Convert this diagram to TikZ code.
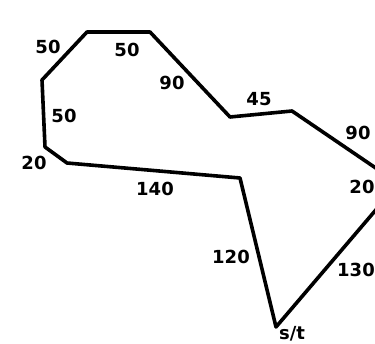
\documentclass[tikz,border=0pt]{standalone}
\usepackage{fontspec}
\setmainfont{DejaVu Sans}
\tikzset{
  edge/.style={line width=3.6pt,line join=round},
  wt/.style={font=\fontsize{18}{20}\selectfont\bfseries,inner sep=0pt}
}
\begin{document}
\begin{tikzpicture}[x=1pt,y=-1pt]
\useasboundingbox (0,0) rectangle (375,344);
\clip (0,0) rectangle (375,344);

% corners of the tour
\coordinate (st) at (276,327);
\coordinate (a) at (240,178);
\coordinate (b) at (67,163);
\coordinate (c) at (45,147);
\coordinate (d) at (42,80);
\coordinate (e) at (87,32);
\coordinate (f) at (150,32);
\coordinate (g) at (230,117);
\coordinate (h) at (292,111);
\coordinate (i) at (386,175);
\coordinate (j) at (386,198);

\draw[edge] (st) -- (a) -- (b) -- (c) -- (d) -- (e) -- (f) -- (g) -- (h) -- (i) -- (j) -- cycle;

% weights
\node[wt] (w1) at (48,47) {50};
\node[wt] (w2) at (127,50) {50};
\node[wt] (w3) at (172,83) {90};
\node[wt] (w4) at (64,116) {50};
\node[wt] (w5) at (34,163) {20};
\node[wt] (w6) at (155,189) {140};
\node[wt] (w7) at (259,99) {45};
\node[wt] (w8) at (358,133) {90};
\node[wt] (w9) at (362,187) {20};
\node[wt] (w10) at (231,257) {120};
\node[wt] (w11) at (356,270) {130};
\node[wt] (w12) at (292,334) {s/t};
\end{tikzpicture}
\end{document}
